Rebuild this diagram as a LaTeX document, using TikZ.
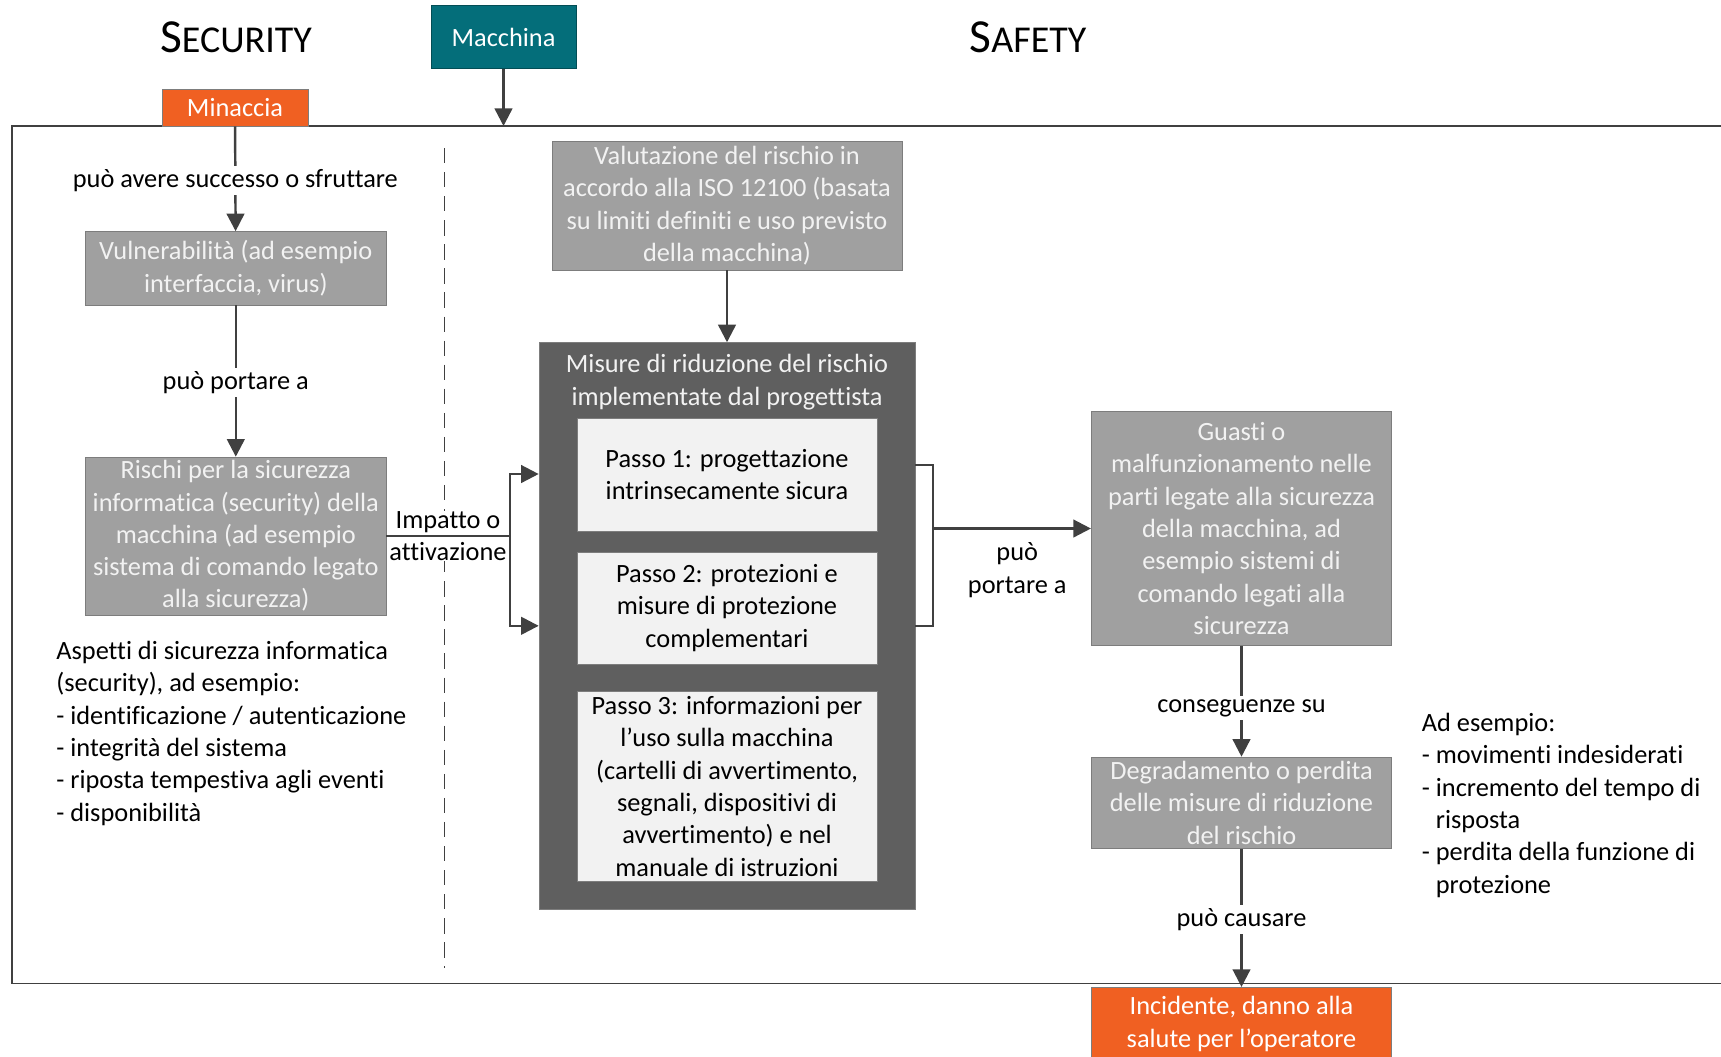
\documentclass[tikz,border=0pt]{standalone}
\usepackage{fontspec}
\setmainfont{Carlito}[Ligatures={NoCommon,NoContextual,NoRare}, Contextuals=NoAlternate]
\usetikzlibrary{arrows.meta}
\definecolor{threatorange}{RGB}{240,96,34}
\definecolor{machteal}{RGB}{4,110,122}
\definecolor{boxgray}{RGB}{160,160,160}
\definecolor{boxedge}{RGB}{125,125,125}
\definecolor{darkbox}{RGB}{95,95,95}
\definecolor{lightfill}{RGB}{242,242,242}
\definecolor{linecol}{RGB}{64,64,64}
\newcommand{\bodysize}{\fontsize{15}{18.4}\selectfont}
\newcommand{\titlecaps}[2]{{\fontsize{27}{30}\selectfont #1\fontsize{21.6}{24}\selectfont #2}}

\begin{document}
\begin{tikzpicture}[x=0.02cm, y=-0.02cm,
    every node/.style={font=\bodysize, inner sep=0pt, align=center},
    graybox/.style={draw=boxedge, fill=boxgray, text=lightfill, minimum width=6.01cm},
    stepbox/.style={draw=boxedge, fill=lightfill, text=black, minimum width=6cm},
    orangebox/.style={draw=boxedge, fill=threatorange, text=white},
    lbl/.style={fill=white, inner sep=2pt, yshift=-1pt},
    arr/.style={draw=linecol, line width=1.4pt, -{Triangle[length=10pt,width=10pt]}},
    conn/.style={draw=linecol, line width=1.4pt},
    frame/.style={draw=linecol, line width=1.1pt},
    divider/.style={draw=linecol, line width=1.05pt, dash pattern=on 8.7pt off 5pt}]
  \useasboundingbox (0,0) rectangle (1721,1056);
  \clip (0,0) rectangle (1721,1056);
  \draw[frame] (1740,126) -- (12,126) -- (12,983.5) -- (1740,983.5);
  \draw[divider] (444.5,148) -- (444.5,968);

  \node (sec) [anchor=base] at (236,52.7)  {\titlecaps{S}{ECURITY}};
  \node (saf) [anchor=base] at (1028,52.7) {\titlecaps{S}{AFETY}};

  \node (mac) [draw=machteal!70!black, fill=machteal, text=white, minimum width=2.9cm, minimum height=1.25cm] at (503.5,37) {Macchina};
  \node (min) [orangebox, minimum width=2.92cm, minimum height=0.74cm] at (235,107.5) {Minaccia};
  \coordinate (mtop) at (503.5,126);

  \node (vul) [graybox, minimum height=1.47cm] at (235.8,268.3) {Vulnerabilità (ad esempio\\interfaccia, virus)};
  \node (ris) [graybox, minimum height=3.16cm] at (235.8,536) {Rischi per la sicurezza\\informatica (security) della\\macchina (ad esempio\\sistema di comando legato\\alla sicurezza)};
  \node (asp) [anchor=base west, align=left] at (56,821) {Aspetti di sicurezza informatica\\(security), ad esempio:\\- identificazione / autenticazione\\- integrità del sistema\\- riposta tempestiva agli eventi\\- disponibilità};

  \node (val) [graybox, minimum width=7cm, minimum height=2.57cm] at (727,205.8) {Valutazione del rischio in\\accordo alla ISO 12100 (basata\\su limiti definiti e uso previsto\\della macchina)};
  \node (mis) [draw=boxedge, fill=darkbox, minimum width=7.52cm, minimum height=11.33cm] at (727,625.8) {};
  \node (mishead) [text=lightfill] at (727,382) {Misure di riduzione del rischio\\implementate dal progettista};
  \node (p1) [stepbox, minimum height=2.26cm] at (727,474.5) {Passo 1: progettazione\\intrinsecamente sicura};
  \node (p2) [stepbox, minimum height=2.24cm] at (727,608) {Passo 2: protezioni e\\misure di protezione\\complementari};
  \node (p3) [stepbox, minimum height=3.79cm] at (727,786.3) {Passo 3: informazioni per\\l’uso sulla macchina\\(cartelli di avvertimento,\\segnali, dispositivi di\\avvertimento) e nel\\manuale di istruzioni};

  \node (gua) [graybox, minimum height=4.68cm] at (1241.5,528.5) {Guasti o\\malfunzionamento nelle\\parti legate alla sicurezza\\della macchina, ad\\esempio sistemi di\\comando legati alla\\sicurezza};
  \node (deg) [graybox, minimum height=1.83cm] at (1241.5,802.8) {Degradamento o perdita\\delle misure di riduzione\\del rischio};
  \node (inc) [orangebox, minimum width=6.01cm, minimum height=1.47cm] at (1241.5,1024) {Incidente, danno alla\\salute per l’operatore};
  \node (ade) [anchor=base west, align=left] at (1421.5,893) {Ad esempio:\\- movimenti indesiderati\\- incremento del tempo di\\\phantom{- }risposta\\- perdita della funzione di\\\phantom{- }protezione};

  \coordinate (imp) at (510,536);
  \coordinate (brk) at (933,528.5);
  \node (impl) [fill=white] at (448,536) {Impatto o\\attivazione};

  \draw[arr] (mac) -- (mtop);
  \draw[arr] (min) -- node[lbl] {può avere successo o sfruttare} (vul);
  \draw[arr] (vul) -- node[lbl] {può portare a} (ris);
  \draw[conn] (ris) -- (imp);
  \draw[arr] (imp) |- (mis.west |- 0,474);
  \draw[arr] (imp) |- (mis.west |- 0,625.8);
  \draw[arr] (val) -- (mis);
  \draw[conn] (mis.east |- 0,465) -| (brk) |- (mis.east |- 0,625.8);
  \draw[arr] (brk) -- node[below=7.5pt, xshift=3pt] {può\\portare a} (gua);
  \draw[arr] (gua) -- node[lbl, yshift=-3pt] {conseguenze su} (deg);
  \draw[arr] (deg) -- node[lbl] {può causare} (inc);
\end{tikzpicture}
\end{document}
